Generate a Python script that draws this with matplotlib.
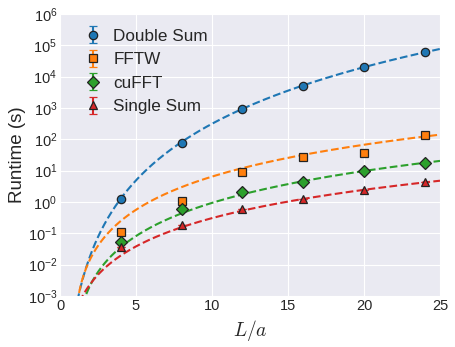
import numpy as np
import matplotlib
matplotlib.use("Agg")
import matplotlib.pyplot as plt

plt.style.use("seaborn-v0_8-darkgrid")
plt.rcParams["font.family"] = ["Liberation Sans", "DejaVu Sans"]
plt.rcParams["mathtext.fontset"] = "cm"

# lattice sizes L/a
L = np.array([4, 8, 12, 16, 20, 24])

# measured runtimes in seconds
double_sum = np.array([1.25, 78, 910, 5130, 20000, 60000])
fftw = np.array([0.11, 1.07, 9.3, 28, 37, 141])
cufft = np.array([0.054, 0.58, 2.04, 4.35, 9.8, 17.9])
single_sum = np.array([0.036, 0.19, 0.58, 1.28, 2.46, 4.2])

labels = ["Double Sum", "FFTW", "cuFFT", "Single Sum"]
colors = ["C0", "C1", "C2", "C3"]
markers = ["o", "s", "D", "^"]


# scaling laws: N^2, N log N, N log N, N with N = L^3
def f_double(x):
    return x ** 6


def f_nlogn(x):
    with np.errstate(invalid="ignore", divide="ignore"):
        return x ** 3 * np.log(x)


def f_single(x):
    return x ** 3


models = [f_double, f_nlogn, f_nlogn, f_single]
series = [double_sum, fftw, cufft, single_sum]

fig = plt.figure(figsize=(4.56, 3.47), dpi=100)
ax = fig.add_axes([0.1316, 0.147, 0.8333, 0.8127])

xfit = np.linspace(1.0, 25, 500)
for y, f, c, m, lab in zip(series, models, colors, markers, labels):
    # least squares amplitude through the origin
    a = np.sum(y * f(L)) / np.sum(f(L) ** 2)
    ax.plot(xfit, a * f(xfit), "--", color=c, lw=1.5, zorder=2)
    ax.errorbar(L, y, yerr=0 * y, fmt=m, color=c, mfc=c, mec="#222222",
                mew=0.9, ms=6.5 if m == "D" else 6, capsize=3, capthick=1.5,
                elinewidth=1.5, label=lab, zorder=3)

ax.set_yscale("log")
ax.set_xlim(0, 25)
ax.set_ylim(1e-3, 1e6)
ax.set_yticks([10.0 ** k for k in range(-3, 7)])
ax.minorticks_off()
ax.tick_params(labelsize=10.5, pad=2)
ax.set_xlabel("$L/a$", fontsize=14)
ax.set_ylabel("Runtime (s)", fontsize=13.5, labelpad=1.5)
ax.legend(loc="upper left", bbox_to_anchor=(0.023, 0.972), borderaxespad=0,
          fontsize=12.3, frameon=False, handletextpad=0.2, labelspacing=0.5)

fig.savefig("out.png", dpi=100)
